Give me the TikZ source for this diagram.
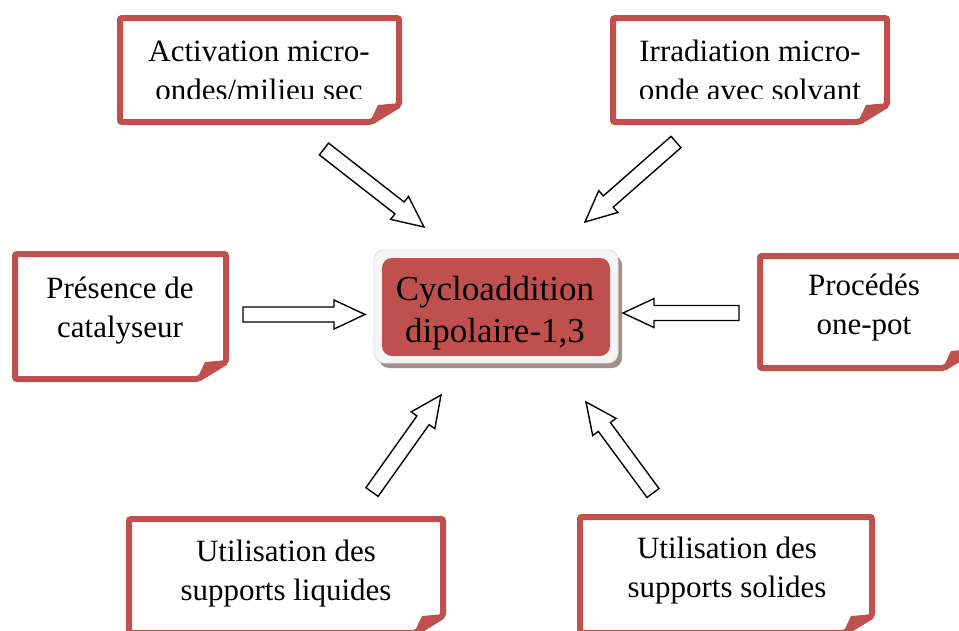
\documentclass[tikz,border=0pt]{standalone}
\usepackage{fontspec}
\setmainfont{Liberation Serif}
\usetikzlibrary{calc}
\definecolor{boxred}{HTML}{C0504D}
\definecolor{shadowc}{HTML}{A38F8F}
\tikzset{
  boxline/.style={draw=boxred, line width=6pt, rounded corners=2pt, fill=white},
  flap/.style={fill=boxred},
  lbl/.style={font=\fontsize{31}{39}\selectfont, align=center, inner sep=0pt, anchor=base},
  clbl/.style={font=\fontsize{35}{42}\selectfont, align=center, inner sep=0pt, anchor=base},
  barrow/.style={draw=black, fill=white, line width=1.4pt, line join=miter},
}
% block arrow from #1 (tail) to #2 (tip)
\newcommand\blockarrow[2]{%
  \draw[barrow] let \p1=($(#2)-(#1)$), \n1={atan2(\y1,\x1)} in
    ($(#1)+(\n1+90:7.5pt)$) --
    ($(#2)+(\n1+180:31pt)+(\n1+90:7.5pt)$) --
    ($(#2)+(\n1+180:31pt)+(\n1+90:14.5pt)$) --
    (#2) --
    ($(#2)+(\n1+180:31pt)+(\n1-90:14.5pt)$) --
    ($(#2)+(\n1+180:31pt)+(\n1-90:7.5pt)$) --
    ($(#1)+(\n1-90:7.5pt)$) -- cycle;}
% note box with curled corner: x1 y1 x2 y2 (border centre line)
\newcommand\notebox[4]{%
  \draw[boxline] (#1,#2) -- (#3,#2) -- (#3,#4-17) -- (#3-28,#4) -- (#1,#4) -- cycle;
  \fill[flap] (#3-30,#4+2) -- (#3-21,#4-17) -- (#3+2,#4-19) -- cycle;}
\begin{document}
\begin{tikzpicture}[x=1pt,y=-1pt]
\useasboundingbox (0,0) rectangle (959,630);
\clip (0,0) rectangle (959,630);

% boxes
\notebox{120}{18}{399}{122}
\notebox{613}{18}{887}{122}
\notebox{15}{254}{226}{379}
\notebox{760}{256}{972}{368}
\notebox{129}{519}{443}{633}
\notebox{580}{517}{872}{633}

\begin{scope}
  \clip (120,18) rectangle (399,98.5);
  \node[lbl] (t1) at (259,100) {Activation micro-\\ondes/milieu sec};
\end{scope}
\begin{scope}
  \clip (613,18) rectangle (887,98.5);
  \node[lbl] (t2) at (750,100) {Irradiation micro-\\onde avec solvant};
\end{scope}
\node[lbl] (t3) at (120,337) {Présence de\\catalyseur};
\node[lbl] (t4) at (864,334) {Procédés\\one-pot};
\node[lbl] (t5) at (286,600) {Utilisation des\\supports liquides};
\node[lbl] (t6) at (727,597) {Utilisation des\\supports solides};

% centre
\fill[shadowc, rounded corners=10pt] (379,255) rectangle (622,368);
\filldraw[fill=gray!8, draw=gray!25, line width=0.8pt, rounded corners=10pt] (374,250) rectangle (618,363);
\fill[boxred, rounded corners=10pt] (382,258) rectangle (610,356);
\node[clbl] (c) at (495,342) {Cycloaddition\\dipolaire-1,3};

% arrows
\coordinate (a1t) at (324,149); \coordinate (a1h) at (424,227);
\coordinate (a2t) at (676,142); \coordinate (a2h) at (585,222);
\coordinate (a3t) at (243,314.5); \coordinate (a3h) at (365,314.5);
\coordinate (a4t) at (739,313); \coordinate (a4h) at (623,313);
\coordinate (a5t) at (372,492); \coordinate (a5h) at (441,395);
\coordinate (a6t) at (653,493); \coordinate (a6h) at (586,402);
\blockarrow{a1t}{a1h}
\blockarrow{a2t}{a2h}
\blockarrow{a3t}{a3h}
\blockarrow{a4t}{a4h}
\blockarrow{a5t}{a5h}
\blockarrow{a6t}{a6h}
\end{tikzpicture}
\end{document}
